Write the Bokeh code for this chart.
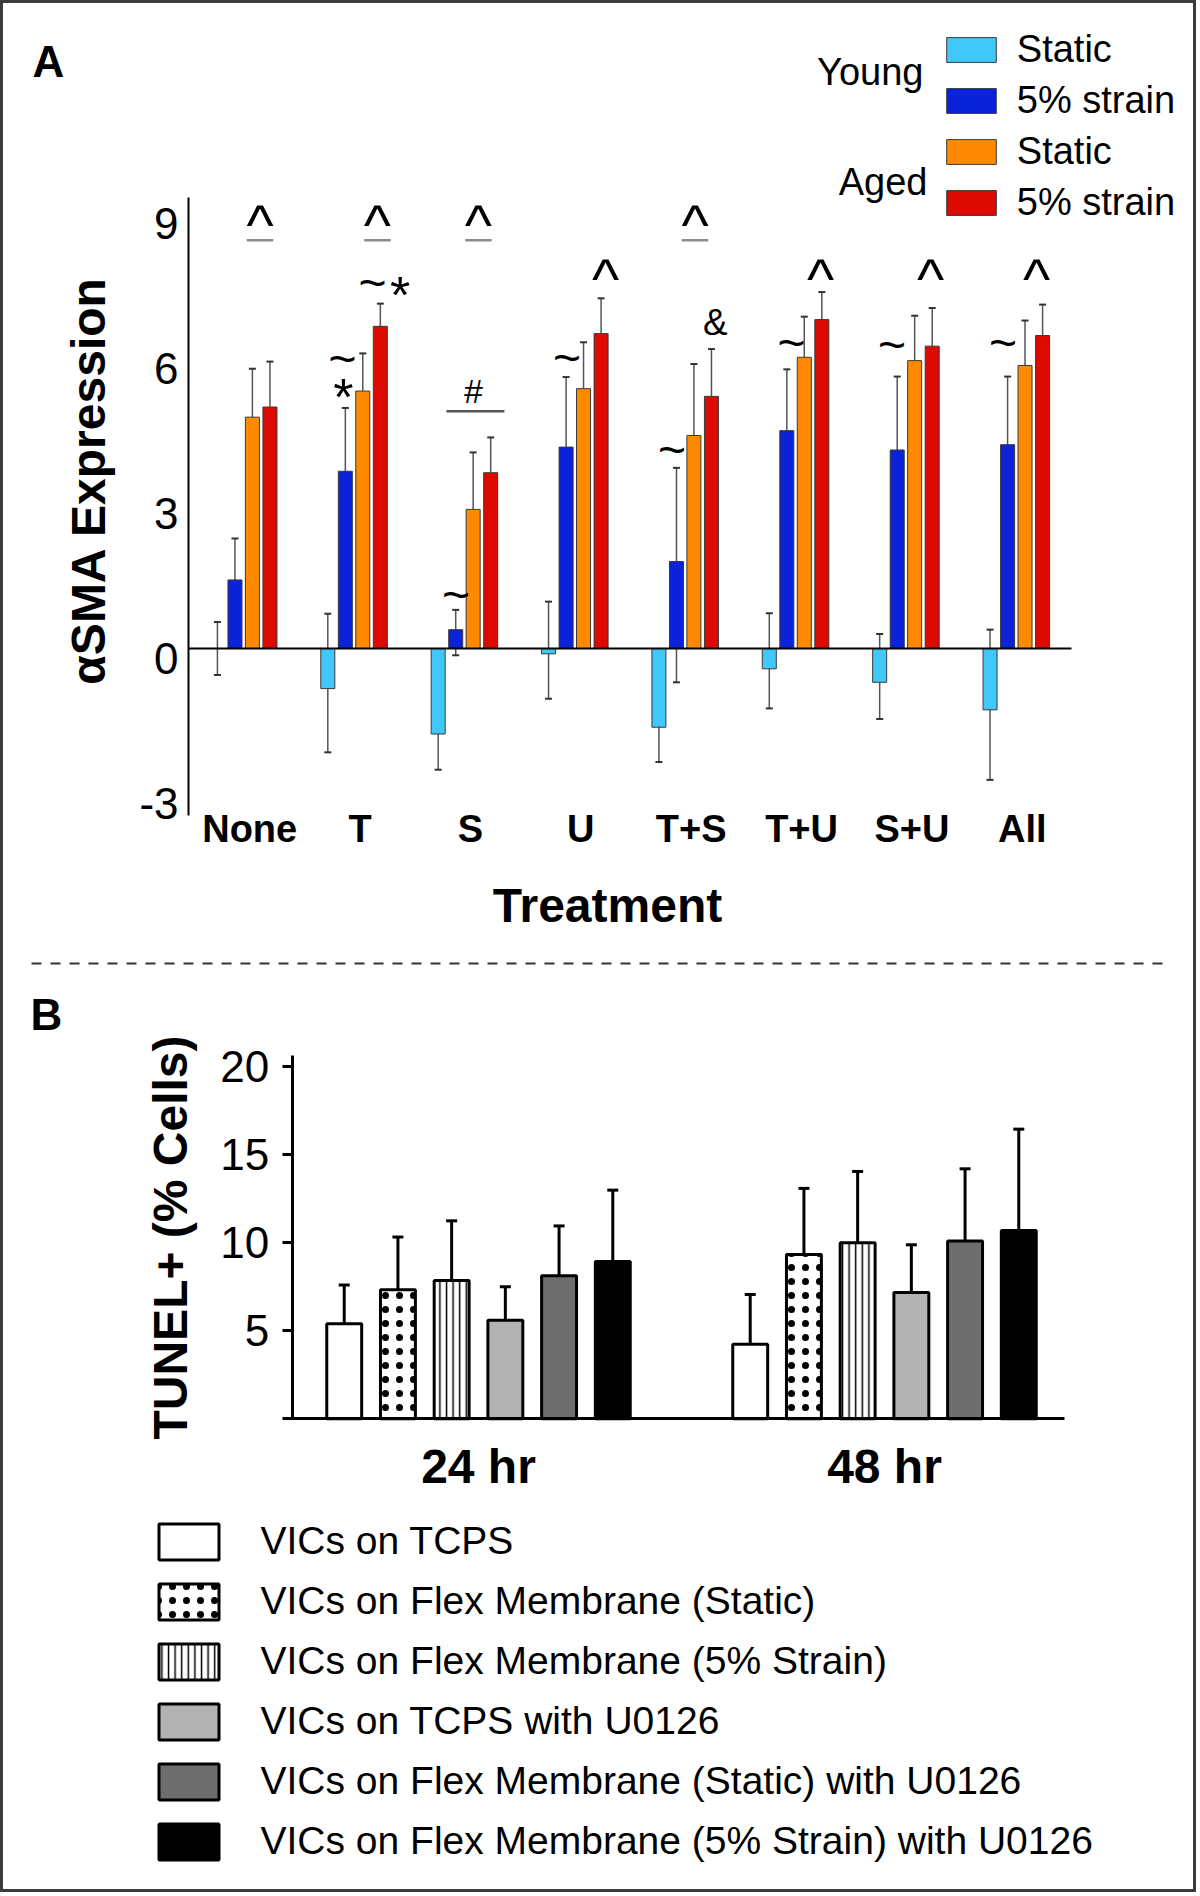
import math
from bokeh.plotting import figure
from bokeh.models import (ColumnDataSource, Range1d, LinearAxis, FixedTicker, Legend, LegendItem,
                          Label, Whisker, TeeHead, Arrow)
from bokeh.core.properties import value
from bokeh.embed import file_html
from bokeh.resources import INLINE

FONT = "Liberation Sans"

# ---------------- Panel A data: alpha-SMA expression ----------------
treatments = ["None", "T", "S", "U", "T+S", "T+U", "S+U", "All"]
young_static      = [0.00, -0.83, -1.77, -0.11, -1.63, -0.42, -0.70, -1.27]
young_static_up   = [0.55, 1.55, 0.74, 1.08, 0.72, 1.15, 1.00, 1.66]
young_static_down = [0.55, 1.32, 0.74, 0.93, 0.72, 0.82, 0.76, 1.45]
young_strain      = [1.42, 3.67, 0.39, 4.17, 1.80, 4.51, 4.11, 4.22]
young_strain_up   = [0.86, 1.31, 0.41, 1.45, 1.94, 1.27, 1.52, 1.41]
young_strain_down = [0.86, 1.31, 0.53, 1.45, 2.50, 1.27, 1.52, 1.41]
aged_static       = [4.79, 5.33, 2.88, 5.38, 4.41, 6.03, 5.96, 5.86]
aged_static_err   = [1.00, 0.78, 1.18, 0.96, 1.48, 0.84, 0.93, 0.93]
aged_strain       = [5.00, 6.67, 3.64, 6.52, 5.22, 6.81, 6.26, 6.48]
aged_strain_err   = [0.94, 0.47, 0.73, 0.73, 0.98, 0.57, 0.79, 0.64]
a_legend_labels   = ["Static", "5% strain", "Static", "5% strain"]
a_ticks           = [-3, 0, 3, 6, 9]

# significance marks: (symbol, treatment index, offset within group, y value)
sig_marks = [
    ("^", 0, 0.148, 8.99), ("^", 1, 0.212, 8.99), ("^", 2, 0.127, 8.99), ("^", 4, 0.089, 8.99),
    ("^", 3, 0.278, 7.87), ("^", 5, 0.226, 7.87), ("^", 6, 0.223, 7.87), ("^", 7, 0.183, 7.87),
    ("~", 1, -0.105, 5.99), ("*", 1, -0.096, 5.43), ("~", 1, 0.167, 7.56), ("*", 1, 0.417, 7.54),
    ("#", 2, 0.082, 5.34), ("~", 2, -0.077, 1.10), ("~", 3, -0.070, 6.00),
    ("~", 4, -0.120, 4.10), ("&", 4, 0.274, 6.74), ("~", 5, -0.037, 6.31),
    ("~", 6, -0.126, 6.27), ("~", 7, -0.120, 6.31),
]
# bracket lines: (treatment index, offset start, offset end, y value, colour)
sig_lines = [
    (0, 0.028, 0.268, 8.45, "#8c8c8c"), (1, 0.092, 0.332, 8.45, "#8c8c8c"),
    (2, 0.007, 0.247, 8.45, "#8c8c8c"), (4, -0.031, 0.209, 8.45, "#8c8c8c"),
    (2, -0.163, 0.362, 4.91, "#555555"),
]

# ---------------- Panel B data: TUNEL+ ----------------
timepoints = ["24 hr", "48 hr"]
conditions = ["VICs on TCPS", "VICs on Flex Membrane (Static)",
              "VICs on Flex Membrane (5% Strain)", "VICs on TCPS with U0126",
              "VICs on Flex Membrane (Static) with U0126",
              "VICs on Flex Membrane (5% Strain) with U0126"]
tunel_24     = [5.39, 7.32, 7.84, 5.59, 8.12, 8.92]
tunel_48     = [4.23, 9.32, 9.98, 7.17, 10.08, 10.68]
tunel_24_err = [2.20, 2.99, 3.39, 1.90, 2.82, 4.05]
tunel_48_err = [2.82, 3.75, 4.05, 2.70, 4.10, 5.75]
b_ticks      = [5, 10, 15, 20]

# ---------------- layout (canvas pixels; the frame covers the whole canvas) ----------------
W, H = 1196, 1892
A_AXIS_X, A_PX_PER_GROUP = 188.0, 110.375
A_ZERO_Y, A_PX_PER_UNIT = 648.0, 48.3
A_LABEL_SHIFT_Y = 10.0
A_LABEL_SHIFT_X = 6.0
B_GROUP0_X, B_PX_PER_GROUP = 478.0, 406.0
B_ZERO_Y, B_PX_PER_UNIT = 1418.3, 17.63
B_TICK = 10

ax_start = -0.5 - A_AXIS_X / A_PX_PER_GROUP
ax_end = ax_start + W / A_PX_PER_GROUP
ay_end = A_ZERO_Y / A_PX_PER_UNIT
ay_start = ay_end - H / A_PX_PER_UNIT
bx_start = -B_GROUP0_X / B_PX_PER_GROUP
by_end = B_ZERO_Y / B_PX_PER_UNIT
by_start = by_end - H / B_PX_PER_UNIT
day = A_LABEL_SHIFT_Y / A_PX_PER_UNIT
dax = A_LABEL_SHIFT_X / A_PX_PER_GROUP

p = figure(width=W, height=H, output_backend="svg", toolbar_location=None,
           x_range=Range1d(ax_start, ax_end), y_range=Range1d(ay_start, ay_end),
           x_axis_location=None, y_axis_location=None, min_border=0,
           background_fill_color="white", border_fill_color="white",
           outline_line_color="#3c3c3c", outline_line_width=5)
p.title.visible = False
p.extra_x_ranges = {"bx": Range1d(bx_start, bx_start + W / B_PX_PER_GROUP),
                    "axlab": Range1d(ax_start - dax, ax_end - dax)}
p.extra_y_ranges = {"by": Range1d(by_start, by_end),
                    "alab": Range1d(ay_start + day, ay_end + day)}
p.grid.visible = False

NOTICK = dict(major_tick_line_color=None, minor_tick_line_color=None,
              major_tick_out=0, major_tick_in=0, minor_tick_out=0, minor_tick_in=0)

# ---------------- Panel A bars ----------------
a_offsets = [-0.238, -0.079, 0.079, 0.238]
a_width = 0.127
a_colors = ["#3FC8F8", "#0A22DA", "#FF8A00", "#DC0A00"]
a_vals = [young_static, young_strain, aged_static, aged_strain]
a_up = [young_static_up, young_strain_up, aged_static_err, aged_strain_err]
a_dn = [young_static_down, young_strain_down, aged_static_err, aged_strain_err]

a_items = []
for s in range(4):
    xs = [g + a_offsets[s] for g in range(len(treatments))]
    src = ColumnDataSource(dict(
        x=xs, top=a_vals[s],
        hi=[v + e for v, e in zip(a_vals[s], a_up[s])],
        lo=[v - e for v, e in zip(a_vals[s], a_dn[s])]))
    w = Whisker(source=src, base="x", upper="hi", lower="lo", level="underlay",
                line_color="#555555", line_width=1.5,
                upper_head=TeeHead(size=7, line_color="#333333", line_width=2),
                lower_head=TeeHead(size=7, line_color="#333333", line_width=2))
    p.add_layout(w)
    r = p.vbar(x="x", top="top", bottom=0, width=a_width, source=src,
               fill_color=a_colors[s], line_color="#3a3a3a", line_width=1)
    a_items.append(LegendItem(label=a_legend_labels[s], renderers=[r]))

# significance brackets and marks
p.segment(x0=[g + a for g, a, b, y, c in sig_lines], y0=[y for g, a, b, y, c in sig_lines],
          x1=[g + b for g, a, b, y, c in sig_lines], y1=[y for g, a, b, y, c in sig_lines],
          line_color=[c for g, a, b, y, c in sig_lines], line_width=2.5)
sym_style = {"^": (58, 0.17), "~": (48, -0.02), "*": (52, 0.20), "#": (34, 0.0), "&": (37, 0.0)}
msrc = ColumnDataSource(dict(
    x=[g + dx for s, g, dx, y in sig_marks],
    y=[y for s, g, dx, y in sig_marks],
    text=[s for s, g, dx, y in sig_marks],
    size=["%dpx" % sym_style[s][0] for s, g, dx, y in sig_marks],
    yoff=[sym_style[s][0] * sym_style[s][1] for s, g, dx, y in sig_marks]))
p.text(x="x", y="y", text="text", source=msrc, text_font=value(FONT), text_font_size="size",
       text_align="center", text_baseline="alphabetic", y_offset="yoff", text_color="black")

# Panel A axes
ay = LinearAxis(fixed_location=-0.5, bounds=(-3.46, 9.34), ticker=FixedTicker(ticks=[]),
                axis_line_color="black", axis_line_width=2, **NOTICK)
p.add_layout(ay, "left")
ay_lab = LinearAxis(y_range_name="alab", fixed_location=-0.5, bounds=(-3.5, 9.5),
                    ticker=FixedTicker(ticks=a_ticks),
                    major_label_overrides={t: str(t) for t in a_ticks},
                    axis_line_color=None,
                    major_label_text_font=FONT, major_label_text_font_size="44px",
                    major_label_text_color="black", major_label_standoff=10, **NOTICK)
p.add_layout(ay_lab, "left")
a_zero = LinearAxis(fixed_location=0, bounds=(-0.5, 7.5), ticker=FixedTicker(ticks=[]),
                    axis_line_color="black", axis_line_width=2, **NOTICK)
p.add_layout(a_zero, "below")
a_cat = LinearAxis(x_range_name="axlab", fixed_location=-3.31, bounds=(-0.61, 7.09),
                   ticker=FixedTicker(ticks=list(range(len(treatments)))),
                   major_label_overrides={i: t for i, t in enumerate(treatments)},
                   axis_line_color=None,
                   major_label_text_font=FONT, major_label_text_font_size="38px",
                   major_label_text_font_style="bold", major_label_text_color="black",
                   major_label_standoff=0,
                   axis_label="Treatment", axis_label_text_font=FONT,
                   axis_label_text_font_size="48px", axis_label_text_font_style="bold",
                   axis_label_text_color="black", axis_label_standoff=25, **NOTICK)
p.add_layout(a_cat, "below")

A_LEG_ROW, A_LEG_GAP, A_LEG_TOP = 45, 6, 27
legA = Legend(items=a_items, orientation="vertical",
              location=(939.8, H - A_LEG_TOP - (4 * A_LEG_ROW + 3 * A_LEG_GAP)),
              glyph_width=62, glyph_height=31, label_height=A_LEG_ROW, label_standoff=15,
              spacing=A_LEG_GAP, padding=0, margin=0, label_text_font=FONT,
              label_text_font_size="38px", label_text_color="black",
              border_line_alpha=0, background_fill_alpha=0)
p.add_layout(legA)

# ---------------- Panel B bars ----------------
b_pitch = 0.1323
b_width = 0.086
b_fill = ["white", "white", "white", "#B3B3B3", "#6E6E6E", "black"]
b_hatch = [None, "dot", "vertical_line", None, None, None]
b_lower_arm = [True, False, False, True, True, False]
b_items = []
for c in range(len(conditions)):
    xs = [t + (c - 2.5) * b_pitch for t in range(len(timepoints))]
    tops = [tunel_24[c], tunel_48[c]]
    errs = [tunel_24_err[c], tunel_48_err[c]]
    src = ColumnDataSource(dict(
        x=xs, top=tops,
        hi=[v + e for v, e in zip(tops, errs)],
        lo=[v - e if b_lower_arm[c] else v for v, e in zip(tops, errs)]))
    kw = {}
    if b_hatch[c] == "dot":
        kw = dict(hatch_pattern="dot", hatch_color="black", hatch_scale=14, hatch_weight=4)
    elif b_hatch[c] == "vertical_line":
        kw = dict(hatch_pattern="vertical_line", hatch_color="black", hatch_scale=6.6,
                  hatch_weight=1.5)
    r = p.vbar(x="x", top="top", bottom=0, width=b_width, source=src,
               x_range_name="bx", y_range_name="by",
               fill_color=b_fill[c], line_color="black", line_width=3, **kw)
    w = Whisker(source=src, base="x", upper="hi", lower="lo",
                x_range_name="bx", y_range_name="by",
                line_color="black", line_width=3,
                upper_head=TeeHead(size=11, line_color="black", line_width=3),
                lower_head=TeeHead(size=11, line_color="black", line_width=3) if b_lower_arm[c] else None)
    p.add_layout(w)
    b_items.append(LegendItem(label=conditions[c], renderers=[r]))

b_axis_x = -0.459
b_y = LinearAxis(x_range_name="bx", y_range_name="by", fixed_location=b_axis_x, bounds=(0, 20.6),
                 ticker=FixedTicker(ticks=b_ticks),
                 axis_line_color="black", axis_line_width=3,
                 major_tick_line_color="black", major_tick_line_width=3,
                 major_tick_out=B_TICK, major_tick_in=0, minor_tick_line_color=None,
                 minor_tick_out=0, minor_tick_in=0,
                 major_label_text_font=FONT, major_label_text_font_size="44px",
                 major_label_text_color="black", major_label_standoff=13)
p.add_layout(b_y, "left")
b_x = LinearAxis(x_range_name="bx", y_range_name="by", fixed_location=0,
                 bounds=(b_axis_x - B_TICK / B_PX_PER_GROUP, 1.443),
                 ticker=FixedTicker(ticks=list(range(len(timepoints)))),
                 major_label_overrides={i: t for i, t in enumerate(timepoints)},
                 axis_line_color="black", axis_line_width=3,
                 major_label_text_font=FONT, major_label_text_font_size="48px",
                 major_label_text_font_style="bold", major_label_text_color="black",
                 major_label_standoff=21, **NOTICK)
p.add_layout(b_x, "below")

B_LEG_ROW, B_LEG_GAP, B_LEG_TOP = 45, 15, 1518.5
legB = Legend(items=b_items, orientation="vertical",
              location=(150.5, H - B_LEG_TOP - (6 * B_LEG_ROW + 5 * B_LEG_GAP)),
              glyph_width=75, glyph_height=45, label_height=B_LEG_ROW, label_standoff=35,
              spacing=B_LEG_GAP, padding=0, margin=0, label_text_font=FONT,
              label_text_font_size="39px", label_text_color="black",
              border_line_alpha=0, background_fill_alpha=0)
p.add_layout(legB)

# ---------------- texts (y = centre of capitals, measured from the top) ----------------
def lab(text, x, y_from_top, size, bold=False, align="left", angle=0.0):
    p.add_layout(Label(x=x, y=H - y_from_top, x_units="screen", y_units="screen", text=text,
                       text_font=FONT, text_font_size="%dpx" % size,
                       text_font_style="bold" if bold else "normal", text_color="black",
                       text_align=align, text_baseline="alphabetic", angle=angle))

lab("A", 32, 61, 44, bold=True)
lab("B", 30, 1014, 44, bold=True)
lab("\u03b1SMA Expression", 88, 480, 48, bold=True, align="center", angle=math.pi / 2)
lab("TUNEL+ (% Cells)", 170, 1237, 48, bold=True, align="center", angle=math.pi / 2)
lab("Young", 923, 71.5, 38, align="right")
lab("Aged", 927, 181.5, 38, align="right")

p.add_layout(Arrow(x_start=31, y_start=H - 963, x_end=1163, y_end=H - 963,
                   start_units="screen", end_units="screen", start=None, end=None,
                   line_color="#333333", line_width=2, line_dash="10 9"))

open("out.html", "w").write(file_html(p, INLINE))
